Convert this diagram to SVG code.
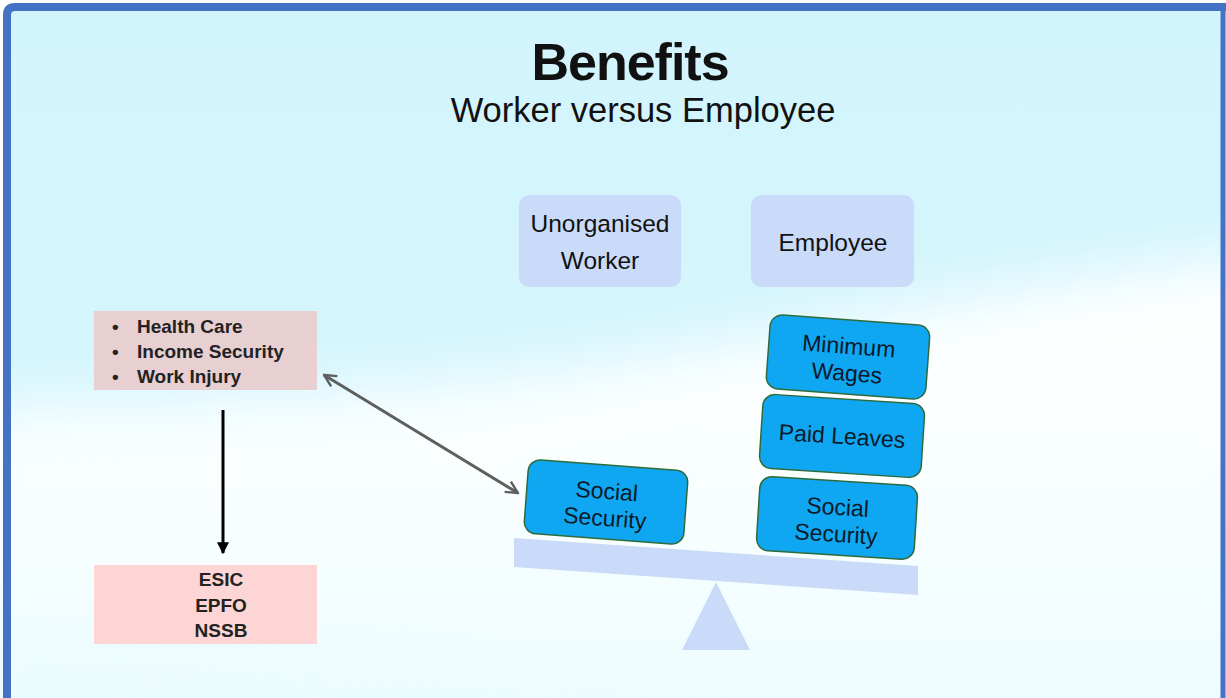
<svg xmlns="http://www.w3.org/2000/svg" width="1226" height="698" viewBox="0 0 1226 698">
<style>
text{font-family:"Liberation Sans",Arial,sans-serif;fill:#111}
.hdr{fill:#c9dbf8}
.hdrt{font-size:24.5px;text-anchor:middle}
.blk{fill:#10a7f2;stroke:#2e6b3c;stroke-width:1.5}
.blkt{font-size:23px;text-anchor:middle;fill:#0a1a2a}
.lst{font-size:19px;font-weight:bold;fill:#222}
.org{font-size:19px;font-weight:bold;text-anchor:middle;fill:#222}
</style>
<defs>
<linearGradient id="bg" x1="0" y1="0" x2="0" y2="1">
<stop offset="0" stop-color="#d2f4fc"/>
<stop offset="1" stop-color="#d8f7fd"/>
</linearGradient>
<linearGradient id="low" x1="0" y1="0" x2="0" y2="1">
<stop offset="0" stop-color="#ffffff"/>
<stop offset="0.6" stop-color="#f7feff"/>
<stop offset="1" stop-color="#eafcff"/>
</linearGradient>
<filter id="blur" x="-10%" y="-30%" width="120%" height="160%"><feGaussianBlur stdDeviation="28"/></filter>
<marker id="ah" viewBox="0 0 10 10" refX="9" refY="5" markerWidth="5" markerHeight="5" orient="auto-start-reverse" markerUnits="strokeWidth">
<path d="M1,1 L9,5 L1,9" fill="none" stroke="#5f5f5f" stroke-width="1.6"/>
</marker>
<marker id="bh" viewBox="0 0 10 10" refX="9" refY="5" markerWidth="4" markerHeight="4" orient="auto" markerUnits="strokeWidth">
<path d="M0,0 L10,5 L0,10 z" fill="#000"/>
</marker>
</defs>
<g id="background">
<rect x="0" y="0" width="1226" height="698" fill="#ffffff"/>
<rect x="7" y="7" width="1226" height="700" rx="10" fill="url(#bg)"/>
<path d="M-40,410 C200,400 400,395 600,365 C800,335 1000,285 1270,255 L1270,740 L-40,740 z" fill="url(#low)" filter="url(#blur)"/>
<path d="M-20,640 C200,630 400,660 700,700 L-20,720 z" fill="#eafcff" filter="url(#blur)" opacity="0.8"/>
<path d="M7,698 L7,15 Q7,7 15,7 L1226,7" fill="none" stroke="#4472c4" stroke-width="8"/>
<line x1="1223" y1="7" x2="1223" y2="698" stroke="#4472c4" stroke-width="5"/>
</g>
<g id="title">
<text x="630" y="80" font-size="52" font-weight="bold" text-anchor="middle" letter-spacing="-1" fill="#000">Benefits</text>
<text x="643" y="122" font-size="34.5" text-anchor="middle" fill="#000">Worker versus Employee</text>
</g>
<g id="unorganised-worker">
<rect class="hdr" x="519" y="195" width="162" height="92" rx="10"/>
<text class="hdrt" x="600" y="232">Unorganised</text>
<text class="hdrt" x="600" y="269">Worker</text>
</g>
<g id="employee">
<rect class="hdr" x="751" y="195" width="163" height="92" rx="10"/>
<text class="hdrt" x="833" y="251">Employee</text>
</g>
<g id="benefits-list">
<rect x="94" y="311" width="223" height="79" fill="#e8cfd2"/>
<text class="lst" x="112" y="333">•</text>
<text class="lst" x="137" y="333">Health Care</text>
<text class="lst" x="112" y="358">•</text>
<text class="lst" x="137" y="358">Income Security</text>
<text class="lst" x="112" y="383">•</text>
<text class="lst" x="137" y="383">Work Injury</text>
</g>
<g id="organisations">
<rect x="94" y="565" width="223" height="79" fill="#fcd5d4"/>
<text class="org" x="221" y="586">ESIC</text>
<text class="org" x="221" y="612">EPFO</text>
<text class="org" x="221" y="637">NSSB</text>
</g>
<g id="balance">
<polygon points="514,538 918,566 918,595 514,567" fill="#c9dbf8"/>
<polygon points="716,582 750,650 682,650" fill="#c9dbf8"/>
</g>
<g id="worker-social-security" transform="translate(606,502) rotate(4.3)">
<rect class="blk" x="-80" y="-37" width="160" height="74" rx="12"/>
<text class="blkt" x="0" y="-3">Social</text>
<text class="blkt" x="0" y="24">Security</text>
</g>
<g id="employee-social-security" transform="translate(837,518) rotate(3.6)">
<rect class="blk" x="-79" y="-37" width="158" height="74" rx="12"/>
<text class="blkt" x="0" y="-3">Social</text>
<text class="blkt" x="0" y="24">Security</text>
</g>
<g id="paid-leaves" transform="translate(842,436) rotate(3.7)">
<rect class="blk" x="-81" y="-37" width="162" height="74" rx="12"/>
<text class="blkt" x="0" y="8">Paid Leaves</text>
</g>
<g id="minimum-wages" transform="translate(848,357) rotate(4.2)">
<rect class="blk" x="-80" y="-37" width="160" height="74" rx="12"/>
<text class="blkt" x="0" y="-3">Minimum</text>
<text class="blkt" x="0" y="24">Wages</text>
</g>
<g id="connectors">
<line x1="324" y1="375" x2="518" y2="493" stroke="#5f5f5f" stroke-width="3" marker-start="url(#ah)" marker-end="url(#ah)"/>
<line x1="223" y1="410" x2="223" y2="553" stroke="#000" stroke-width="3" marker-end="url(#bh)"/>
</g>
</svg>
